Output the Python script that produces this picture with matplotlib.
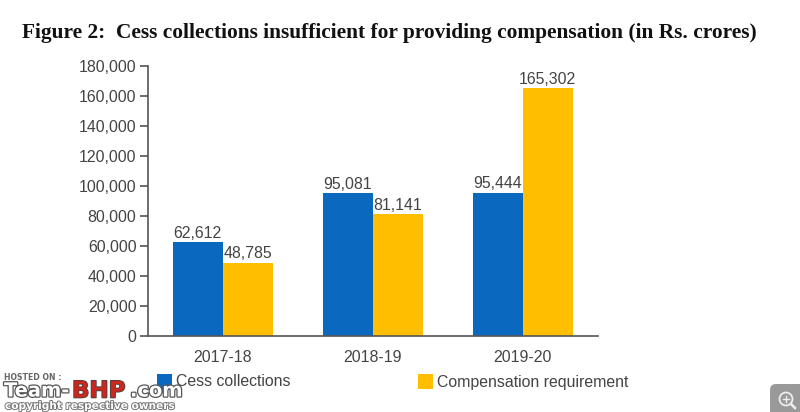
import matplotlib
matplotlib.use("Agg")
import matplotlib.pyplot as plt
import matplotlib.patheffects as pe
from matplotlib.patches import FancyBboxPatch, Rectangle, Circle
from matplotlib.lines import Line2D

years = ["2017-18", "2018-19", "2019-20"]
cess = [62612, 95081, 95444]
compensation = [48785, 81141, 165302]
cess_labels = ["62,612", "95,081", "95,444"]
comp_labels = ["48,785", "81,141", "165,302"]
yticks = [0, 20000, 40000, 60000, 80000, 100000, 120000, 140000, 160000, 180000]

W, H = 800, 412
BLUE = "#0B68BF"
YELLOW = "#FFBF00"
TEXT = "#444444"
FS = 11.4

plt.rcParams["font.family"] = ["Liberation Sans", "DejaVu Sans"]

fig = plt.figure(figsize=(W / 100, H / 100), dpi=100)
ax = fig.add_axes([147.5 / W, 1 - 336 / H, 450 / W, 270 / H])

bar_w = 50 / 150
x = range(len(years))
ax.bar([i - bar_w / 2 for i in x], cess, bar_w, color=BLUE)
ax.bar([i + bar_w / 2 for i in x], compensation, bar_w, color=YELLOW)

for i in x:
    ax.text(i - bar_w / 2, cess[i] + 900, cess_labels[i], ha="center", va="bottom", fontsize=FS, color=TEXT)
    ax.text(i + bar_w / 2, compensation[i] + 900, comp_labels[i], ha="center", va="bottom", fontsize=FS, color=TEXT)

ax.set_xlim(-0.5, 2.5)
ax.set_ylim(0, 180000)
ax.set_xticks(list(x))
ax.set_xticklabels(years, fontsize=FS, color=TEXT)
ax.set_yticks(yticks)
ax.set_yticklabels([f"{t:,}" for t in yticks], fontsize=FS, color=TEXT)
ax.tick_params(axis="y", length=6, width=1.2, color="#555555", pad=2)
ax.tick_params(axis="x", length=0, pad=10)
ax.spines["top"].set_visible(False)
ax.spines["right"].set_visible(False)
for s in ["left", "bottom"]:
    ax.spines[s].set_color("#555555")
    ax.spines[s].set_linewidth(1.2)

# overlay in pixel coords
ov = fig.add_axes([0, 0, 1, 1], zorder=5)
ov.set_xlim(0, W)
ov.set_ylim(H, 0)
ov.axis("off")

ov.text(22, 33, "Figure 2:  Cess collections insufficient for providing compensation (in Rs. crores)",
        family="Liberation Serif", weight="bold", fontsize=15.4, color="#111111", va="center")

# legend
ov.add_patch(Rectangle((157, 374), 15, 15, color=BLUE, lw=0))
ov.text(176, 382, "Cess collections", fontsize=FS, color=TEXT, va="center")
ov.add_patch(Rectangle((418, 374), 15, 15, color=YELLOW, lw=0))
ov.text(437, 382, "Compensation requirement", fontsize=FS, color=TEXT, va="center")

# watermark
ov.text(4, 378, "HOSTED ON :", family="DejaVu Sans", weight="bold", fontsize=5.6, color="#666666", va="center")
ov.text(4, 391, "Team-", family="DejaVu Sans", weight="bold", fontsize=14, color="white", va="center",
        path_effects=[pe.withStroke(linewidth=1.8, foreground="#555555")])
ov.text(72, 391, "BHP", family="DejaVu Sans", weight="bold", fontsize=16.5, color="#C8281E", va="center",
        path_effects=[pe.withStroke(linewidth=1.2, foreground="#444444")])
ov.text(130, 391, ".com", family="DejaVu Sans", weight="bold", fontsize=14, color="white", va="center",
        path_effects=[pe.withStroke(linewidth=1.8, foreground="#555555")])
ov.text(5, 406, "copyright respective owners", family="DejaVu Sans", weight="bold", fontsize=7.6, color="white", va="center",
        path_effects=[pe.withStroke(linewidth=1.4, foreground="#777777")])

# zoom icon
ov.add_patch(FancyBboxPatch((770, 384), 40, 40, boxstyle="round,pad=0,rounding_size=6", color="#999999", lw=0, clip_on=True))
ov.add_patch(Circle((786, 399), 6.5, fill=False, ec="#eeeeee", lw=1.3))
ov.add_line(Line2D([791, 795], [404, 408], color="#eeeeee", lw=1.8))
ov.add_line(Line2D([783, 789], [399, 399], color="#eeeeee", lw=1))
ov.add_line(Line2D([786, 786], [396, 402], color="#eeeeee", lw=1))

fig.savefig("out.png", dpi=100)
